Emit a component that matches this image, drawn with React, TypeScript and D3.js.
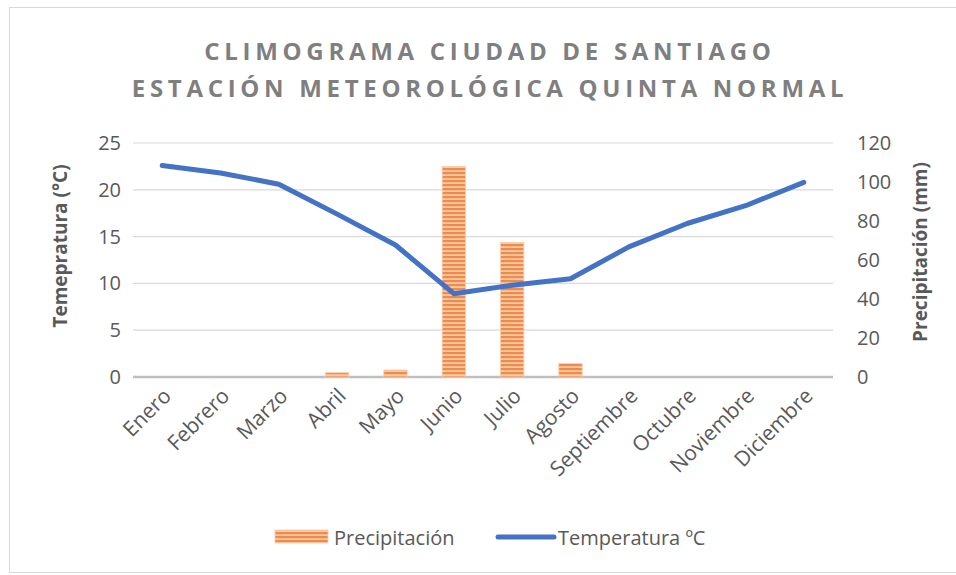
import React from "react";
import * as d3 from "d3";

const months = ["Enero","Febrero","Marzo","Abril","Mayo","Junio","Julio","Agosto","Septiembre","Octubre","Noviembre","Diciembre"];
const temperature = [22.6, 21.8, 20.6, 17.4, 14.1, 8.9, 9.8, 10.5, 13.9, 16.4, 18.3, 20.8];
const precipitation = [0, 0, 0, 2.2, 3.6, 108, 69, 7, 0, 0, 0, 0];
const tempTicks = [0, 5, 10, 15, 20, 25];
const precTicks = [0, 20, 40, 60, 80, 100, 120];

const W = 956, H = 575;
const FONT = "'Open Sans', 'Noto Sans', sans-serif";

export default function App() {
  const left = 133, right = 833, top = 143, bottom = 377;
  const x = d3.scaleBand<string>().domain(months).range([left, right]).paddingInner(0.6).paddingOuter(0.3);
  const xc = d3.scaleBand<string>().domain(months).range([left, right]);
  const yT = d3.scaleLinear().domain([0, 25]).range([bottom, top]);
  const yP = d3.scaleLinear().domain([0, 120]).range([bottom, top]);
  const line = d3.line<number>().x((_, i) => xc(months[i])! + xc.bandwidth() / 2).y(d => yT(d));

  return (
    <svg width={W} height={H} style={{ position: "absolute", left: 0, top: 0 }}>
      <defs>
        <pattern id="stripes" width="4" height="4" patternUnits="userSpaceOnUse">
          <rect width="4" height="4" fill="#F9C9A3" />
          <rect width="4" height="2.2" fill="#EE8A4B" />
        </pattern>
      </defs>
      <rect x={0} y={0} width={W} height={H} fill="#fff" />
      <rect x={9.5} y={7.5} width={960} height={565} fill="#fff" stroke="#d9d9d9" strokeWidth={1} />
      <g fontFamily={FONT} fill="#7f7f7f" fontWeight={700} fontSize={24} textAnchor="middle" letterSpacing={4.7}>
        <text x={490} y={60}>CLIMOGRAMA CIUDAD DE SANTIAGO</text>
        <text x={490} y={97}>ESTACIÓN METEOROLÓGICA QUINTA NORMAL</text>
      </g>
      {tempTicks.map(t => (
        <line key={t} x1={left} x2={right} y1={yT(t)} y2={yT(t)} stroke={t === 0 ? "#bfbfbf" : "#d9d9d9"} strokeWidth={t === 0 ? 2.5 : 1.2} />
      ))}
      <g fontFamily={FONT} fontSize={20} fill="#595959">
        {tempTicks.map(t => (
          <text key={t} x={121} y={yT(t)} dy="0.35em" textAnchor="end">{t}</text>
        ))}
        {precTicks.map(t => (
          <text key={t} x={857} y={yP(t)} dy="0.35em" textAnchor="start">{t}</text>
        ))}
        {months.map(m => {
          const cx = xc(m)! + xc.bandwidth() / 2 + 5;
          return (
            <text key={m} transform={`translate(${cx},${392}) rotate(-45)`} textAnchor="end" dy="0.35em" fontSize={21}>{m}</text>
          );
        })}
      </g>
      <g fontFamily={FONT} fontSize={19} fontWeight={700} fill="#595959" textAnchor="middle">
        <text transform={`translate(${60},${246}) rotate(-90)`} dy="0.35em">Temepratura (°C)</text>
        <text transform={`translate(${920},${252}) rotate(-90)`} dy="0.35em">Precipitación (mm)</text>
      </g>
      {precipitation.map((p, i) => p > 0 && (
        <rect key={i} x={x(months[i])} y={yP(p)} width={x.bandwidth()} height={bottom - yP(p)} fill="url(#stripes)" stroke="#F8CBAD" strokeWidth={0.8} />
      ))}
      <path d={line(temperature)!} fill="none" stroke="#4472C4" strokeWidth={5} strokeLinejoin="round" strokeLinecap="round" />
      <g fontFamily={FONT} fontSize={20} fill="#595959">
        <rect x={275} y={530} width={53} height={13} fill="url(#stripes)" stroke="#F8CBAD" strokeWidth={0.8} />
        <text x={334} y={545}>Precipitación</text>
        <line x1={498} x2={554} y1={537} y2={537} stroke="#4472C4" strokeWidth={5} strokeLinecap="round" />
        <text x={558} y={545}>Temperatura ºC</text>
      </g>
    </svg>
  );
}
